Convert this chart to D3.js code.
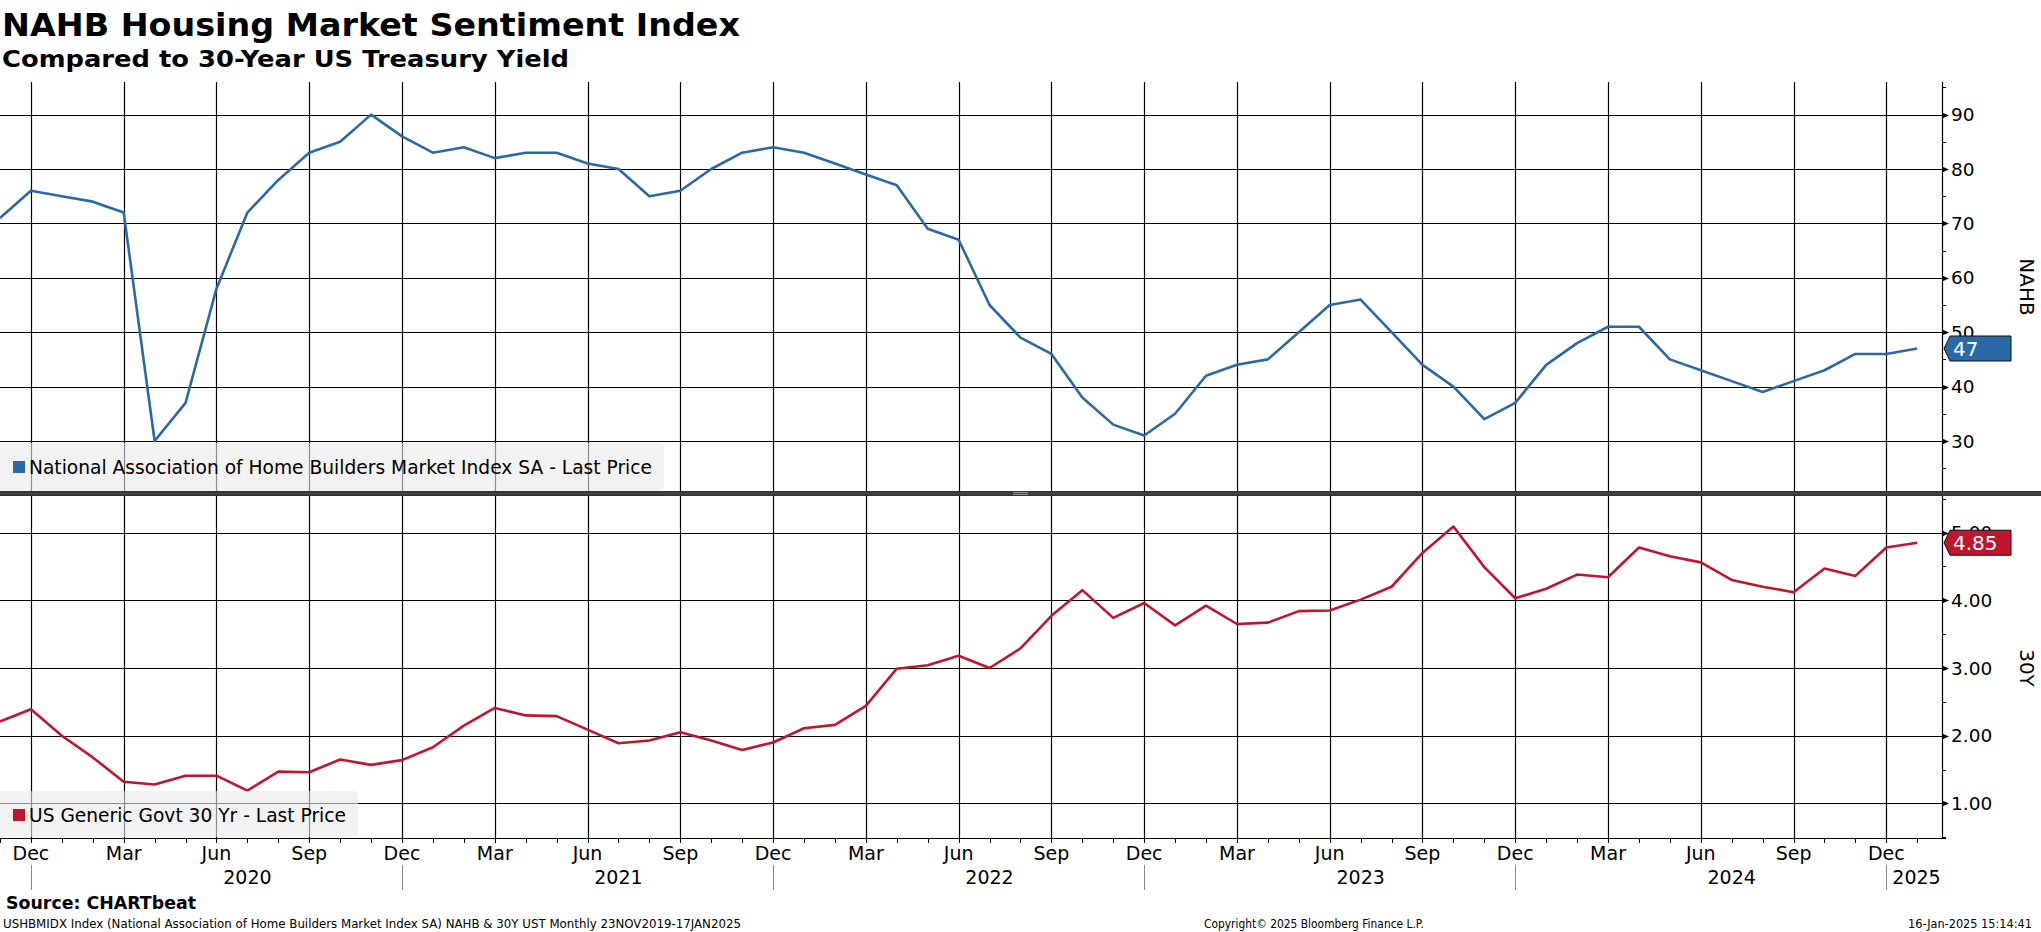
<!DOCTYPE html>
<html><head><meta charset="utf-8">
<script src="https://cdn.jsdelivr.net/npm/d3@7"></script>
<style>
html,body{margin:0;padding:0;background:#fff;overflow:hidden;}
svg{display:block;}
</style></head>
<body>
<svg id="chart" width="2041" height="932"></svg>
<script>
// ---------------- DATA ----------------
// monthly observations, Nov 2019 .. Jan 2025 (index 0 .. 62)
const startYear = 2019, startMonth = 10; // Nov 2019 (0-based month)
const nahb = [71,76,75,74,72,30,37,58,72,78,83,85,90,86,83,84,82,83,83,81,80,75,76,80,83,84,
  83,81,79,77,69,67,55,49,46,38,33,31,35,42,44,45,50,55,56,50,44,40,34,37,44,48,51,51,45,43,41,39,41,43,46,46,47];
const ust30 = [2.21,2.39,2.00,1.68,1.32,1.28,1.41,1.41,1.19,1.47,1.46,1.65,1.57,1.64,1.83,2.15,2.41,2.30,2.29,2.09,1.89,1.93,2.05,1.93,1.79,1.90,
  2.11,2.16,2.44,2.99,3.04,3.18,3.00,3.29,3.77,4.15,3.74,3.96,3.63,3.92,3.65,3.67,3.84,3.85,4.01,4.20,4.70,5.09,4.49,4.03,4.17,4.38,4.34,4.78,4.65,4.56,4.30,4.20,4.12,4.47,4.36,4.78,4.85];
const monthTickLabels = ["Dec","Mar","Jun","Sep","Dec","Mar","Jun","Sep","Dec","Mar","Jun","Sep","Dec","Mar","Jun","Sep","Dec","Mar","Jun","Sep","Dec"];
const monthTickIndex = [1,4,7,10,13,16,19,22,25,28,31,34,37,40,43,46,49,52,55,58,61];
const yearLabels = ["2020","2021","2022","2023","2024","2025"];
const yearLabelIndex = [8,20,32,44,56,61];
const yearSepIndex = [1,13,25,37,49,61];
const nahbTicks = [30,40,50,60,70,80,90];
const nahbMinor = [25,35,45,55,65,75,85,95];
const ustTicks = [1,2,3,4,5];
const ustMinor = [0.5,1.5,2.5,3.5,4.5,5.5];
const nahbLegend = "National Association of Home Builders Market Index SA - Last Price";
const ustLegend = "US Generic Govt 30 Yr - Last Price";
const titleText = "NAHB Housing Market Sentiment Index";
const subtitleText = "Compared to 30-Year US Treasury Yield";

// ---------------- LAYOUT ----------------
const W = 2041, H = 932;
const plotL = 0, plotR = 1942;
const top1 = 82, bot1 = 491;
const top2 = 496, bot2 = 838;
const blue = "#2b69a6", red = "#c0152f";
const FONT = "'DejaVu Sans', Verdana, sans-serif";

const svg = d3.select("#chart");

const x = d3.scaleLinear().domain([0, 62.8]).range([plotL, plotR]);
const y1 = d3.scaleLinear().domain([20.8, 96]).range([bot1, top1]);
const y2 = d3.scaleLinear().domain([0.49, 5.54]).range([bot2, top2]);

function fit(sel, w) {
  sel.attr("textLength", w).attr("lengthAdjust", "spacingAndGlyphs");
  return sel;
}

// ---------------- GRID ----------------
const grid = svg.append("g");
// vertical quarter gridlines across both panels
grid.selectAll("line.v").data(monthTickIndex).join("line")
  .attr("x1", d => Math.round(x(d)) + 0.5).attr("x2", d => Math.round(x(d)) + 0.5)
  .attr("y1", top1).attr("y2", bot2)
  .attr("stroke", "#000").attr("stroke-width", 1.2);
// horizontal gridlines
grid.selectAll("line.h1").data(nahbTicks).join("line")
  .attr("x1", plotL).attr("x2", plotR)
  .attr("y1", d => Math.round(y1(d)) + 0.5).attr("y2", d => Math.round(y1(d)) + 0.5)
  .attr("stroke", "#000").attr("stroke-width", 1.2);
grid.selectAll("line.h2").data(ustTicks).join("line")
  .attr("x1", plotL).attr("x2", plotR)
  .attr("y1", d => Math.round(y2(d)) + 0.5).attr("y2", d => Math.round(y2(d)) + 0.5)
  .attr("stroke", "#000").attr("stroke-width", 1.2);

// ---------------- LINES ----------------
const line1 = d3.line().x((d, i) => x(i)).y(d => y1(d));
const line2 = d3.line().x((d, i) => x(i)).y(d => y2(d));
svg.append("path").datum(nahb).attr("d", line1)
  .attr("fill", "none").attr("stroke", blue).attr("stroke-width", 2.6).attr("stroke-linejoin", "round");
svg.append("path").datum(ust30).attr("d", line2)
  .attr("fill", "none").attr("stroke", red).attr("stroke-width", 2.6).attr("stroke-linejoin", "round");

// ---------------- LEGENDS ----------------
function legend(y0, h, w, color, text, textW, textY) {
  const g = svg.append("g");
  g.append("rect").attr("x", -4).attr("y", y0).attr("width", w + 4).attr("height", h)
    .attr("rx", 4).attr("fill", "#e9e9e9").attr("fill-opacity", 0.6);
  g.append("rect").attr("x", 13).attr("y", textY - 6).attr("width", 12).attr("height", 12).attr("fill", color);
  fit(g.append("text").attr("x", 29).attr("y", textY).attr("dy", "0.35em")
    .attr("font-family", FONT).attr("font-size", 20).attr("fill", "#000").text(text), textW);
}
legend(443, 48, 664, blue, nahbLegend, 623, 467);
legend(791, 46, 358, red, ustLegend, 317, 815);

// ---------------- SEPARATOR ----------------
svg.append("rect").attr("x", 0).attr("y", 491).attr("width", W).attr("height", 5).attr("fill", "#333");
svg.append("rect").attr("x", 0).attr("y", 492.5).attr("width", W).attr("height", 2).attr("fill", "#454545");
svg.append("line").attr("x1", 1013).attr("x2", 1028).attr("y1", 492.5).attr("y2", 492.5).attr("stroke", "#aaa").attr("stroke-width", 0.8);
svg.append("line").attr("x1", 1013).attr("x2", 1028).attr("y1", 494.5).attr("y2", 494.5).attr("stroke", "#aaa").attr("stroke-width", 0.8);

// ---------------- RIGHT AXES ----------------
function rightAxis(scale, yTop, yBot, ticks, minor, fmt) {
  const g = svg.append("g");
  g.append("line").attr("x1", plotR + 0.5).attr("x2", plotR + 0.5).attr("y1", yTop).attr("y2", yBot)
    .attr("stroke", "#000").attr("stroke-width", 1.2);
  g.selectAll("line.mi").data(minor).join("line")
    .attr("x1", plotR).attr("x2", plotR + 4)
    .attr("y1", d => Math.round(scale(d)) + 0.5).attr("y2", d => Math.round(scale(d)) + 0.5)
    .attr("stroke", "#000").attr("stroke-width", 1);
  g.selectAll("path.tri").data(ticks).join("path")
    .attr("d", d => { const yy = Math.round(scale(d)) + 0.5; return `M${plotR},${yy - 3}L${plotR + 7},${yy}L${plotR},${yy + 3}Z`; })
    .attr("fill", "#000");
  g.selectAll("text").data(ticks).join("text")
    .attr("x", plotR + 9).attr("y", d => scale(d)).attr("dy", "0.36em")
    .attr("font-family", FONT).attr("font-size", 18.5).attr("fill", "#000")
    .text(fmt);
}
rightAxis(y1, top1, bot1, nahbTicks, nahbMinor, d => d3.format("d")(d));
rightAxis(y2, top2, bot2, ustTicks, ustMinor, d => d3.format(".2f")(d));

// axis titles
svg.append("text").attr("transform", `translate(2020,${287}) rotate(90)`)
  .attr("text-anchor", "middle").attr("font-family", FONT).attr("font-size", 20).text("NAHB");
svg.append("text").attr("transform", `translate(2020,${668}) rotate(90)`)
  .attr("text-anchor", "middle").attr("font-family", FONT).attr("font-size", 20).text("30Y");

// last value tags
function tag(yv, color, text) {
  const g = svg.append("g");
  const yy = yv;
  g.append("path").attr("d", `M${plotR + 2},${yy}L${plotR + 8},${yy - 12.5}L2011,${yy - 12.5}L2011,${yy + 12.5}L${plotR + 8},${yy + 12.5}Z`)
    .attr("fill", color).attr("stroke", "#111").attr("stroke-width", 1);
  g.append("text").attr("x", plotR + 11).attr("y", yy).attr("dy", "0.36em")
    .attr("font-family", FONT).attr("font-size", 20).attr("fill", "#fff").text(text);
}
tag(y1(nahb[nahb.length - 1]), blue, d3.format("d")(nahb[nahb.length - 1]));
tag(y2(ust30[ust30.length - 1]), red, d3.format(".2f")(ust30[ust30.length - 1]));

// ---------------- BOTTOM AXIS ----------------
const xa = svg.append("g");
xa.append("line").attr("x1", 0).attr("x2", plotR + 4).attr("y1", bot2 + 0.5).attr("y2", bot2 + 0.5)
  .attr("stroke", "#000").attr("stroke-width", 1.2);
const allMonths = d3.range(0, 63);
xa.selectAll("line.mt").data(allMonths).join("line")
  .attr("x1", d => Math.round(x(d)) + 0.5).attr("x2", d => Math.round(x(d)) + 0.5)
  .attr("y1", bot2).attr("y2", bot2 + 5)
  .attr("stroke", "#000").attr("stroke-width", 1);
xa.selectAll("text.m").data(monthTickIndex).join("text")
  .attr("x", d => x(d)).attr("y", 860)
  .attr("text-anchor", "middle").attr("font-family", FONT).attr("font-size", 19).attr("fill", "#000")
  .text((d, i) => monthTickLabels[i]);
xa.selectAll("line.ys").data(yearSepIndex).join("line")
  .attr("x1", d => Math.round(x(d)) + 0.5).attr("x2", d => Math.round(x(d)) + 0.5)
  .attr("y1", 865).attr("y2", 890)
  .attr("stroke", "#888").attr("stroke-width", 1);
xa.selectAll("text.y").data(yearLabelIndex).join("text")
  .attr("x", (d, i) => i === yearLabels.length - 1 ? x(d) + 6 : x(d))
  .attr("y", 884)
  .attr("text-anchor", (d, i) => i === yearLabels.length - 1 ? "start" : "middle")
  .attr("font-family", FONT).attr("font-size", 19).attr("fill", "#000")
  .text((d, i) => yearLabels[i]);

// ---------------- TITLES ----------------
fit(svg.append("text").attr("x", 2).attr("y", 36).attr("font-family", FONT).attr("font-weight", "bold")
  .attr("font-size", 32).attr("fill", "#000").text(titleText), 738);
fit(svg.append("text").attr("x", 2).attr("y", 67).attr("font-family", FONT).attr("font-weight", "bold")
  .attr("font-size", 23.5).attr("fill", "#000").text(subtitleText), 567);

// ---------------- FOOTER ----------------
fit(svg.append("text").attr("x", 6).attr("y", 909).attr("font-family", FONT).attr("font-weight", "bold")
  .attr("font-size", 17.5).attr("fill", "#000").text("Source: CHARTbeat"), 190);
fit(svg.append("text").attr("x", 3).attr("y", 928).attr("font-family", FONT)
  .attr("font-size", 13).attr("fill", "#000")
  .text("USHBMIDX Index (National Association of Home Builders Market Index SA) NAHB & 30Y UST  Monthly 23NOV2019-17JAN2025"), 738);
fit(svg.append("text").attr("x", 1204).attr("y", 928).attr("font-family", FONT)
  .attr("font-size", 13).attr("fill", "#000").text("Copyright\u00A9 2025 Bloomberg Finance L.P."), 220);
fit(svg.append("text").attr("x", 1908).attr("y", 928).attr("font-family", FONT)
  .attr("font-size", 13).attr("fill", "#000").text("16-Jan-2025 15:14:41"), 124);
</script>
</body></html>
